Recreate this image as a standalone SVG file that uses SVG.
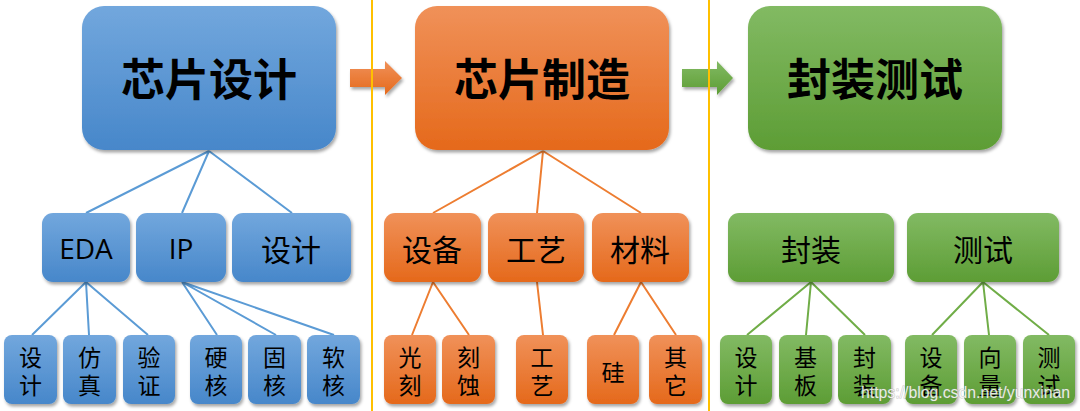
<svg xmlns="http://www.w3.org/2000/svg" width="1080" height="411" viewBox="0 0 1080 411">
<defs>
<linearGradient id="gb" x1="0" y1="0" x2="0" y2="1"><stop offset="0" stop-color="#72A7DD"/><stop offset="1" stop-color="#4787CA"/></linearGradient>
<linearGradient id="go" x1="0" y1="0" x2="0" y2="1"><stop offset="0" stop-color="#F09159"/><stop offset="1" stop-color="#E5691B"/></linearGradient>
<linearGradient id="gg" x1="0" y1="0" x2="0" y2="1"><stop offset="0" stop-color="#82BA63"/><stop offset="1" stop-color="#5D9D35"/></linearGradient>
<filter id="sh" x="-10%" y="-10%" width="130%" height="130%"><feDropShadow dx="1.5" dy="2.5" stdDeviation="1.8" flood-color="#000" flood-opacity="0.35"/></filter>
<style>
.b{fill:url(#gb);filter:url(#sh)}
.o{fill:url(#go);filter:url(#sh)}
.g{fill:url(#gg);filter:url(#sh)}
.t1{font-family:"Noto Sans CJK SC","Noto Sans CJK TC",sans-serif;font-size:44px;font-weight:bold;fill:#000;text-anchor:middle;dominant-baseline:central}
.t2{font-family:"Noto Sans CJK SC",sans-serif;font-size:30px;fill:#000;text-anchor:middle;dominant-baseline:central}
.t2l{font-family:"Open Sans","Liberation Sans",sans-serif;font-size:28px;fill:#000;text-anchor:middle;dominant-baseline:central}
.t3{font-family:"Noto Sans CJK SC",sans-serif;font-size:23px;fill:#000;text-anchor:middle;dominant-baseline:central}
.lb{stroke:#5B9BD5;stroke-width:2;fill:none}
.lo{stroke:#ED7D31;stroke-width:2;fill:none}
.lg{stroke:#70AD47;stroke-width:2;fill:none}
.sep{stroke:#FFC000;stroke-width:2}
</style>
</defs>
<rect width="1080" height="411" fill="#fff"/>

<g id="connectors">
<path class="lb" d="M209,151 L86,213 M209,151 L182,213 M209,151 L292,213"/>
<path class="lb" d="M86,282 L32,335 M86,282 L89,335 M86,282 L148,335"/>
<path class="lb" d="M182,282 L217,335 M182,282 L276,335 M182,282 L334,335"/>
<path class="lo" d="M543,151 L433,213 M543,151 L537,213 M543,151 L641,213"/>
<path class="lo" d="M433,282 L412,335 M433,282 L469,335 M537,282 L543,335 M641,282 L614,335 M641,282 L676,335"/>
<path class="lg" d="M811,282 L747,335 M811,282 L806,335 M811,282 L865,335 M983,282 L932,335 M983,282 L989,335 M983,282 L1049,335"/>
<polygon id="arrow1" fill="url(#go)" filter="url(#sh)" points="350,69 385,69 385,61 402,78 385,95 385,87 350,87"/>
<polygon id="arrow2" fill="url(#gg)" filter="url(#sh)" points="682,69 717,69 717,61 733,78 717,95 717,87 682,87"/>
</g>

<g id="separators">
<line class="sep" x1="372" y1="0" x2="372" y2="411"/>
<line class="sep" x1="709" y1="0" x2="709" y2="411"/>
</g>

<g id="n-design"><rect class="b" x="82" y="6" width="254" height="144" rx="22"/><text class="t1" x="209" y="77">芯片设计</text></g>
<g id="n-manu"><rect class="o" x="415" y="6" width="254" height="144" rx="22"/><text class="t1" x="542" y="77">芯片制造</text></g>
<g id="n-pack"><rect class="g" x="748" y="6" width="254" height="144" rx="22"/><text class="t1" x="875" y="77">封装测试</text></g>

<g id="n-eda"><rect class="b" x="42" y="213" width="88" height="69" rx="11"/><text class="t2l" x="86" y="248">EDA</text></g>
<g id="n-ip"><rect class="b" x="136" y="213" width="90" height="69" rx="11"/><text class="t2l" x="181" y="248">IP</text></g>
<g id="n-sj"><rect class="b" x="232" y="213" width="119" height="69" rx="11"/><text class="t2" x="291" y="248">设计</text></g>

<g id="n-sb"><rect class="o" x="384" y="213" width="97" height="69" rx="11"/><text class="t2" x="432" y="248">设备</text></g>
<g id="n-gy"><rect class="o" x="488" y="213" width="96" height="69" rx="11"/><text class="t2" x="536" y="248">工艺</text></g>
<g id="n-cl"><rect class="o" x="592" y="213" width="97" height="69" rx="11"/><text class="t2" x="640" y="248">材料</text></g>

<g id="n-fz"><rect class="g" x="728" y="213" width="166" height="69" rx="11"/><text class="t2" x="811" y="248">封装</text></g>
<g id="n-cs"><rect class="g" x="907" y="213" width="152" height="69" rx="11"/><text class="t2" x="983" y="248">测试</text></g>

<g id="b1"><rect class="b" x="4" y="335" width="53" height="69" rx="8"/><text class="t3" x="30.5" y="356">设</text><text class="t3" x="30.5" y="384">计</text></g>
<g id="b2"><rect class="b" x="63" y="335" width="53" height="69" rx="8"/><text class="t3" x="89.5" y="356">仿</text><text class="t3" x="89.5" y="384">真</text></g>
<g id="b3"><rect class="b" x="123" y="335" width="52" height="69" rx="8"/><text class="t3" x="149" y="356">验</text><text class="t3" x="149" y="384">证</text></g>
<g id="b4"><rect class="b" x="190" y="335" width="52" height="69" rx="8"/><text class="t3" x="216" y="356">硬</text><text class="t3" x="216" y="384">核</text></g>
<g id="b5"><rect class="b" x="248" y="335" width="53" height="69" rx="8"/><text class="t3" x="274.5" y="356">固</text><text class="t3" x="274.5" y="384">核</text></g>
<g id="b6"><rect class="b" x="307" y="335" width="53" height="69" rx="8"/><text class="t3" x="333.5" y="356">软</text><text class="t3" x="333.5" y="384">核</text></g>

<g id="o1"><rect class="o" x="384" y="335" width="52" height="69" rx="8"/><text class="t3" x="410" y="356">光</text><text class="t3" x="410" y="384">刻</text></g>
<g id="o2"><rect class="o" x="442" y="335" width="53" height="69" rx="8"/><text class="t3" x="468.5" y="356">刻</text><text class="t3" x="468.5" y="384">蚀</text></g>
<g id="o3"><rect class="o" x="516" y="335" width="52" height="69" rx="8"/><text class="t3" x="542" y="356">工</text><text class="t3" x="542" y="384">艺</text></g>
<g id="o4"><rect class="o" x="587" y="335" width="52" height="69" rx="8"/><text class="t3" x="613" y="371">硅</text></g>
<g id="o5"><rect class="o" x="649" y="335" width="53" height="69" rx="8"/><text class="t3" x="675.5" y="356">其</text><text class="t3" x="675.5" y="384">它</text></g>

<g id="g1"><rect class="g" x="720" y="335" width="52" height="69" rx="8"/><text class="t3" x="746" y="356">设</text><text class="t3" x="746" y="384">计</text></g>
<g id="g2"><rect class="g" x="779" y="335" width="53" height="69" rx="8"/><text class="t3" x="805.5" y="356">基</text><text class="t3" x="805.5" y="384">板</text></g>
<g id="g3"><rect class="g" x="838" y="335" width="53" height="69" rx="8"/><text class="t3" x="864.5" y="356">封</text><text class="t3" x="864.5" y="384">装</text></g>
<g id="g4"><rect class="g" x="905" y="335" width="52" height="69" rx="8"/><text class="t3" x="931" y="356">设</text><text class="t3" x="931" y="384">备</text></g>
<g id="g5"><rect class="g" x="964" y="335" width="52" height="69" rx="8"/><text class="t3" x="990" y="356">向</text><text class="t3" x="990" y="384">量</text></g>
<g id="g6"><rect class="g" x="1023" y="335" width="52" height="69" rx="8"/><text class="t3" x="1049" y="356">测</text><text class="t3" x="1049" y="384">试</text></g>

<text x="861" y="398" font-family="Liberation Sans, Arial, sans-serif" font-size="16" textLength="209" lengthAdjust="spacingAndGlyphs" fill="#fff" fill-opacity="0.85" stroke="#888" stroke-opacity="0.45" stroke-width="1" paint-order="stroke">https://blog.csdn.net/yunxinan</text>
</svg>
